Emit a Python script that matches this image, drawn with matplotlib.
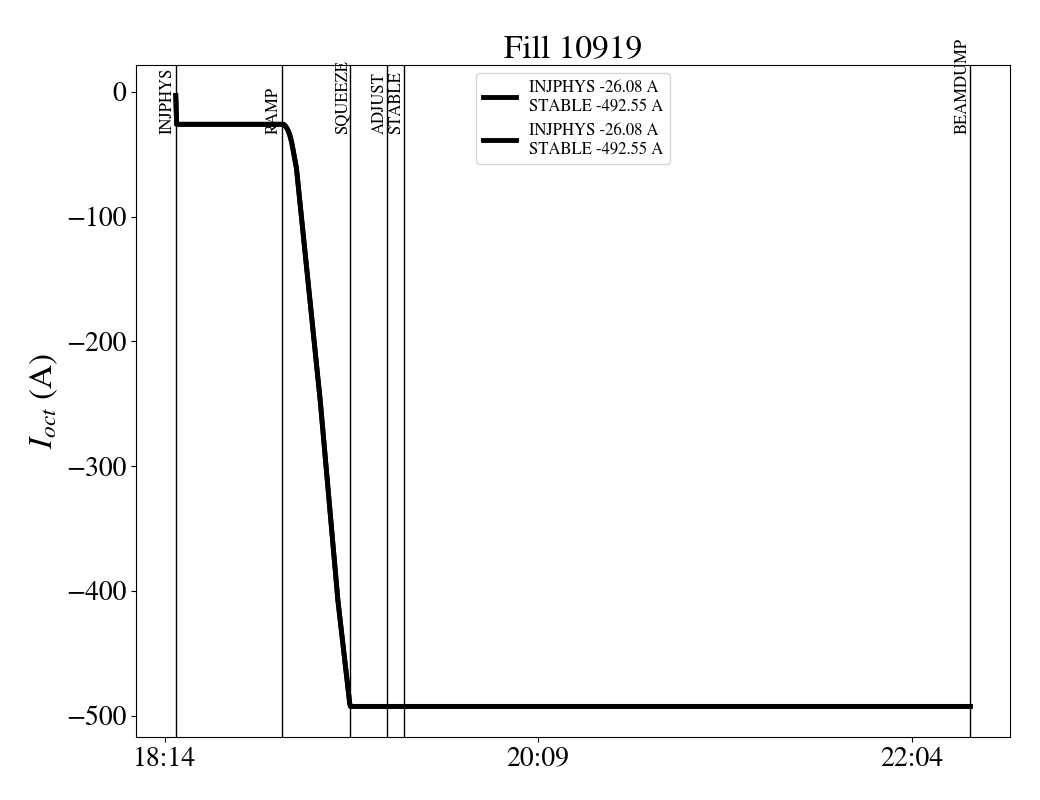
import matplotlib
matplotlib.use("Agg")
import matplotlib.pyplot as plt
import matplotlib.dates as mdates
import pandas as pd

plt.rcParams['font.family'] = ['STIXGeneral', 'DejaVu Serif']
plt.rcParams['mathtext.fontset'] = 'stix'

DAY = "2025-08-01 "

# Octupole current trace (time, current in A)
times = ["18:17:24", "18:17:40", "18:20:00", "18:30:00", "18:40:00", "18:50:35",
         "18:51:13", "18:51:49", "18:52:26", "18:53:03", "18:53:40", "18:54:35",
         "19:01:58", "19:07:21", "19:10:59", "19:11:12", "19:30:00", "20:30:00",
         "21:30:00", "22:22:06"]
currents = [-3.0, -26.08, -26.08, -26.08, -26.08, -26.08,
            -27.6, -30.0, -34.0, -40.0, -48.4, -61.6,
            -249.6, -408.0, -490.4, -492.55, -492.55, -492.55,
            -492.55, -492.55]

# Beam mode changes
mode_names = ["INJPHYS", "RAMP", "SQUEEZE", "ADJUST", "STABLE", "BEAMDUMP"]
mode_times = ["18:17:24", "18:50:06", "19:11:12", "19:22:36", "19:27:48", "22:22:06"]

legend_label = "INJPHYS -26.08 A\nSTABLE -492.55 A"
title = "Fill 10919"
xtick_times = ["18:14", "20:09", "22:04"]

t = pd.to_datetime([DAY + s for s in times])
mt = pd.to_datetime([DAY + s for s in mode_times])
xt = pd.to_datetime([DAY + s for s in xtick_times])

fig = plt.figure(figsize=(10.4, 8), dpi=100)
ax = fig.add_axes([0.1308, 0.0788, 0.8404, 0.8400])

for _ in range(2):
    ax.plot(t, currents, color='black', lw=3.5, label=legend_label)

for name, m in zip(mode_names, mt):
    ax.axvline(m, color='black', lw=1)
    ax.text(m, -33.5, name, rotation=90, ha='right', va='bottom', fontsize=12)

ax.set_xticks(xt)
ax.xaxis.set_major_formatter(mdates.DateFormatter('%H:%M'))
ax.tick_params(axis='both', labelsize=20)
ax.set_yticks([0, -100, -200, -300, -400, -500])
ax.set_ylabel(r'$I_{oct}$ (A)', fontsize=24)
ax.set_title(title, fontsize=24, pad=2)
ax.legend(loc='upper center', fontsize=12)

fig.savefig("out.png", dpi=100)
